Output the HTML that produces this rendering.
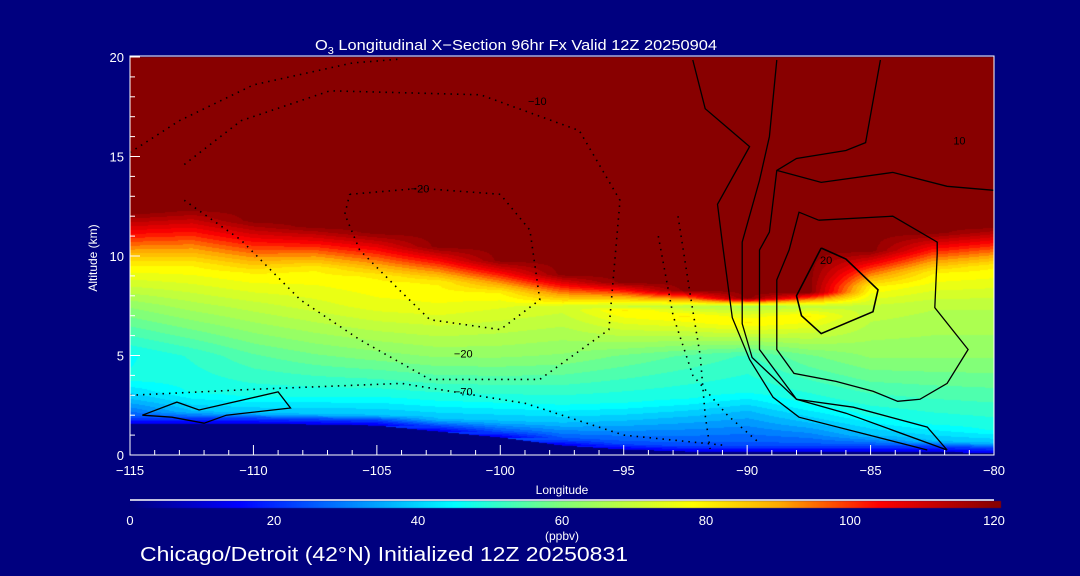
<!DOCTYPE html>
<html><head><meta charset="utf-8">
<style>
html,body{margin:0;padding:0;background:#00007f;}
#wrap{position:relative;width:1080px;height:576px;background:#00007f;overflow:hidden;font-family:"Liberation Sans",sans-serif;color:#fff;}
canvas{position:absolute;left:0;top:0;}
svg{position:absolute;left:0;top:0;}
</style></head>
<body>
<div id="wrap">
<canvas id="field" width="1080" height="576"></canvas>
<svg id="svg" width="1080" height="576"></svg>
</div>
<script>
// ---- data ----
const lons      = [-115,-112.5,-110,-107.5,-105,-102.5,-100,-97.5,-95,-92.5,-90,-87.5,-85,-82.5,-80];
const terrain   = [1.6,1.6,1.6,1.55,1.5,1.2,0.9,0.5,0.3,0.2,0.2,0.2,0.2,0.2,0.1];
const blTop     = [3.8,3.2,3.0,3.0,3.0,2.8,2.7,2.6,2.7,2.9,3.2,2.6,2.0,1.6,1.3];
const mid5      = [46,50,55,58,60,62,62,61,58,55,52,58,62,62,62];
const mid7      = [62,66,69,72,75,76,74,72,70,68,66,68,70,68,68];
const tropLow   = [9.6,9.6,9.2,9.4,9.0,8.7,8.2,7.7,7.3,7.0,6.7,7.0,8.5,9.2,9.5];
const tropHigh  = [12.2,12.4,11.8,11.5,11.2,10.5,9.8,9.1,8.7,8.3,7.9,8.2,10.3,11.2,11.5];
const cbTicks   = [0,20,40,60,80,100,120];
const xTicks    = [-115,-110,-105,-100,-95,-90,-85,-80];
const yTicks    = [0,5,10,15,20];
// contour lines: [lon, alt] pairs
const cZero   = [[-92.2,19.85],[-91.7,17.4],[-89.9,15.5],[-91.2,12.6],[-91.0,10.6],[-90.6,6.9],[-89.9,4.8],[-88.95,2.9],[-87.9,1.9],[-82.7,0.25]];
const cTen    = [[-88.8,19.85],[-89.1,16.0],[-89.5,13.8],[-90.2,10.7],[-90.2,6.6],[-89.8,4.9],[-88.0,2.8],[-86.0,2.1],[-81.9,0.25]];
const cRing15 = [[-87.1,11.8],[-84.1,12.0],[-82.3,10.7],[-82.3,10.1],[-82.4,7.4],[-81.05,5.3],[-81.9,3.6],[-83.0,2.8],[-83.9,2.7],[-84.9,3.2],[-86.4,3.7],[-88.1,4.1],[-88.8,5.3],[-88.8,8.8],[-88.3,10.3],[-87.9,12.2],[-87.1,11.8]];
const cRing20 = [[-87.0,10.4],[-86.0,9.85],[-84.7,8.3],[-84.9,7.2],[-87.0,6.1],[-87.8,7.0],[-88.0,8.0],[-87.0,10.4]];
const cOuter  = [[-84.6,19.85],[-85.2,15.7],[-86.0,15.3],[-88.0,14.9],[-88.8,14.3],[-89.1,11.2],[-89.5,10.3],[-89.5,5.3],[-88.0,2.8],[-85.7,2.4],[-82.7,1.4],[-81.9,0.25]];
const cRight  = [[-80.0,13.3],[-81.9,13.5],[-84.1,14.2],[-87.0,13.7],[-88.8,14.3]];
const cLeftPoly=[[-114.5,2.0],[-113.1,2.66],[-112.2,2.26],[-109.0,3.17],[-108.5,2.36],[-111.1,2.0],[-112.0,1.6],[-113.3,1.9],[-114.5,2.0]];
const dNeg20  = [[-106.1,13.1],[-103.25,13.4],[-100.0,13.1],[-98.8,11.3],[-98.4,7.8],[-100.0,6.3],[-102.85,6.8],[-104.1,8.3],[-105.7,10.3],[-106.3,12.1],[-106.1,13.1]];
const dNeg10  = [[-112.8,14.6],[-110.5,16.8],[-106.9,18.3],[-100.8,18.1],[-96.8,16.3],[-95.15,12.8],[-95.6,6.3],[-98.4,3.8],[-102.85,3.8],[-105.7,5.8],[-108.1,7.8],[-110.5,10.8],[-112.8,12.8]];
const dVert1  = [[-92.8,12.0],[-92.3,8.0],[-91.9,5.0],[-91.7,2.0],[-91.5,0.3]];
const dVert2  = [[-93.6,11.0],[-93.0,7.0],[-92.2,4.0],[-90.8,2.0],[-89.5,0.6]];
const dLow    = [[-115,3.0],[-110,3.3],[-104,3.6],[-99,2.6],[-95,1.0],[-91,0.5]];
const dTop    = [[-115,15.2],[-113,16.8],[-110,18.6],[-106,19.7],[-104,19.9]];

// ---- axes ----
const X0=130,X1=994,Y0=455,Y1=57;
const xs=l=>X0+(l+115)/35*(X1-X0);
const ys=a=>Y0-a/20*(Y0-Y1);
const cbx=v=>X0+v/120*(X1-X0);

const stops=[[0,[0,0,125]],[15,[0,0,255]],[45,[0,255,255]],[60,[130,255,120]],[78,[255,255,0]],[90,[255,170,0]],[104,[255,0,0]],[120,[136,0,0]]];
function cmap(v){v=Math.max(0,Math.min(120,v));
 for(let i=1;i<stops.length;i++){if(v<=stops[i][0]){const a=stops[i-1],b=stops[i];const t=(v-a[0])/(b[0]-a[0]);
 return a[1].map((c,k)=>Math.round(c+(b[1][k]-c)*t));}}return stops[stops.length-1][1];}
function profile(i,alt){
 const t=terrain[i]; if(alt<t) return null;
 let k=[[t,12],[t+0.3,24],[Math.max(t+0.5,blTop[i]-1),37],[blTop[i],47],[5,mid5[i]],[7.5,mid7[i]],[tropLow[i],80],[tropHigh[i],120],[25,120]];
 k.sort((a,b)=>a[0]-b[0]);
 for(let j=1;j<k.length;j++){if(alt<=k[j][0]){const d=k[j][0]-k[j-1][0];const f=d>0?(alt-k[j-1][0])/d:1;return k[j-1][1]+(k[j][1]-k[j-1][1])*f;}}
 return 120;}
const cv=document.getElementById('field');const ctx=cv.getContext('2d');
const W=X1-X0,H=Y0-Y1;const img=ctx.createImageData(W,H);
for(let px=0;px<W;px++){
 const lon=-115+px/W*35;let i=Math.min(lons.length-2,Math.floor((lon-lons[0])/2.5));const f=(lon-lons[i])/2.5;
 for(let py=0;py<H;py++){
  const alt=(H-py)/H*20;
  const a=profile(i,alt),b=profile(i+1,alt);
  const tt=terrain[i]+(terrain[i+1]-terrain[i])*f;
  let v;
  if(alt<tt){v=null}else{v=(a==null?(b==null?12:b):a)*(1-f)+(b==null?(a==null?12:a):b)*f;}
  const o=(py*W+px)*4;
  let c=v==null?[0,0,127]:cmap(Math.round(v/3)*3);
  img.data[o]=c[0];img.data[o+1]=c[1];img.data[o+2]=c[2];img.data[o+3]=255;
 }}
ctx.putImageData(img,X0,Y1);
// colorbar
for(let x=X0;x<=1000;x++){const c=cmap((x-X0)/(X1-X0)*120);ctx.fillStyle=`rgb(${c[0]},${c[1]},${c[2]})`;ctx.fillRect(x,501,1,7);}

const svg=document.getElementById('svg');const NS='http://www.w3.org/2000/svg';
function mk(tag,attrs,name,txt){const e=document.createElementNS(NS,tag);for(const k in attrs)e.setAttribute(k,attrs[k]);
 
 
 if(txt!=null)e.textContent=txt;svg.appendChild(e);return e;}
function line(pts,name,dotted,w){const d=pts.map((p,j)=>(j?'L':'M')+xs(p[0]).toFixed(1)+','+ys(p[1]).toFixed(1)).join('');
 return mk('path',{d:d,fill:'none',stroke:'#000','stroke-width':w||1.3,'stroke-dasharray':dotted?'1.5,5':'none'},name);}
line(cZero,'contour-0',false);line(cTen,'contour-10',false);line(cRing15,'contour-15',false);line(cRing20,'contour-20',false,1.6);
line(cOuter,'contour-5',false);line(cRight,'contour-10-upper',false);line(cLeftPoly,'contour-small-left',false);
line(dNeg20,'contour-neg20',true,1.6);line(dNeg10,'contour-neg10',true,1.6);line(dVert1,'contour-neg10-east',true,1.6);
line(dVert2,'contour-neg20-east',true,1.6);line(dLow,'contour-neg70',true,1.6);line(dTop,'contour-neg-top',true,1.6);

const T={fill:'#fff','font-family':'Liberation Sans, sans-serif'};
function txt(x,y,s,size,anchor,name,extra){return mk('text',Object.assign({x:x,y:y,'font-size':size,'text-anchor':anchor},T,extra||{}),name,s);}
txt(xs(-103.25),ys(13.2),'−20',11,'middle','contour-label-neg20',{fill:'#000'});
txt(xs(-98.5),ys(17.6),'−10',11,'middle','contour-label-neg10',{fill:'#000'});
txt(xs(-101.5),ys(4.9),'−20',11,'middle','contour-label-neg20-low',{fill:'#000'});
txt(xs(-101.5),ys(3.0),'−70',11,'middle','contour-label-neg70',{fill:'#000'});
txt(xs(-86.8),ys(9.6),'20',11,'middle','contour-label-20',{fill:'#000'});
txt(xs(-81.4),ys(15.6),'10',11,'middle','contour-label-10',{fill:'#000'});

// frame
mk('rect',{x:X0,y:Y1-1,width:X1-X0,height:Y0-Y1+1,fill:'none',stroke:'#fff','stroke-width':1},'plot-frame');
for(let l=-115;l<=-80;l++){const maj=l%5===0;mk('line',{x1:xs(l),x2:xs(l),y1:Y0,y2:Y0-(maj?10:5),stroke:'#fff'},'x-tick');}
for(let a=0;a<=20;a+=1){const maj=a%5===0;mk('line',{x1:X0,x2:X0+(maj?10:5),y1:ys(a),y2:ys(a),stroke:'#fff'},'y-tick');}
xTicks.forEach(l=>txt(xs(l),475,String(l).replace('-','−'),13,'middle','x-tick-label'));
yTicks.forEach(a=>txt(124,ys(a)+5,String(a),13,'end','y-tick-label'));
txt(562,494,'Longitude',12,'middle','x-axis-title');
mk('text',Object.assign({x:0,y:0,'font-size':12,'text-anchor':'middle',transform:'translate(97,258) rotate(-90)'},T),'y-axis-title','Altitude (km)');
const title=mk('text',Object.assign({x:315,y:50,'font-size':15,'text-anchor':'start',textLength:402,lengthAdjust:'spacingAndGlyphs'},T),'chart-title');
title.innerHTML='O<tspan font-size="10" dy="4">3</tspan><tspan dy="-4"> Longitudinal X−Section 96hr  Fx Valid 12Z 20250904</tspan>';
// colorbar
mk('line',{x1:X0,x2:X1,y1:500,y2:500,stroke:'#fff','stroke-width':1.5},'colorbar-line');
cbTicks.forEach(v=>txt(cbx(v),525,String(v),13,'middle','colorbar-tick-label'));
txt(562,540,'(ppbv)',12,'middle','colorbar-units');
txt(140,561,'Chicago/Detroit (42°N) Initialized 12Z 20250831',20,'start','footer-caption',{textLength:488,lengthAdjust:'spacingAndGlyphs'});
</script>
</body></html>
